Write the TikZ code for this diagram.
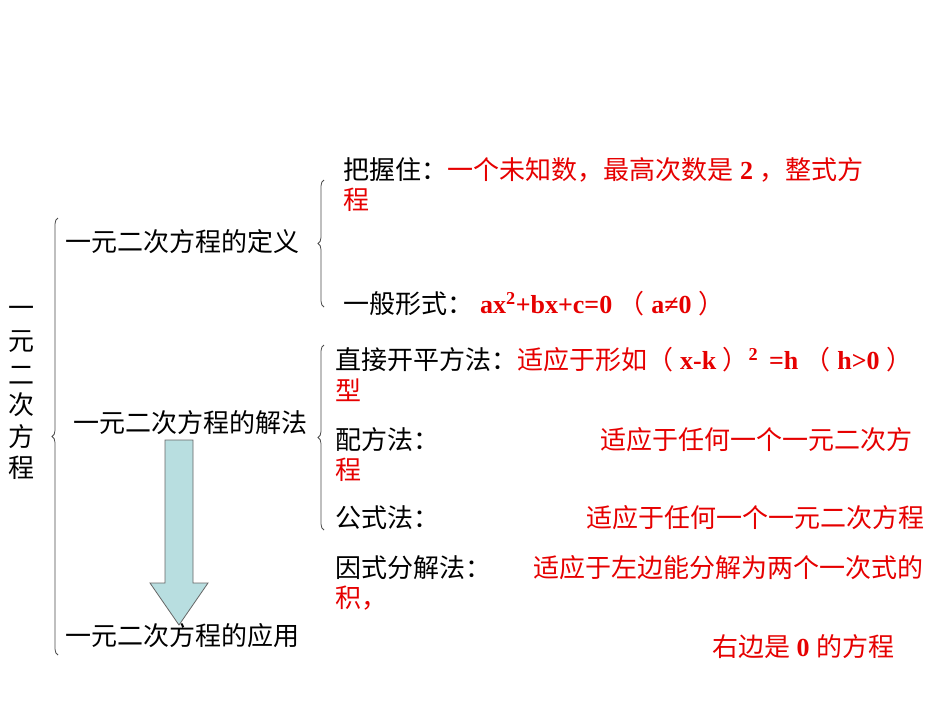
\documentclass[tikz,border=0pt]{standalone}
\usepackage{fontspec}
\setmainfont{Liberation Serif}
\newfontfamily\cjk{Noto Sans CJK SC}
\usetikzlibrary{decorations.pathreplacing}
\definecolor{myred}{RGB}{230,0,0}
\definecolor{arrowfill}{RGB}{184,222,224}
\tikzset{
  t/.style={anchor=west,inner sep=0pt,font=\cjk\fontsize{26}{26}\selectfont},
  r/.style={t,text=myred},
  br/.style={decorate,decoration={brace,amplitude=6pt,mirror},draw=black!70,line width=0.8pt}
}
\newcommand{\lt}[1]{{\rmfamily\bfseries #1}}
\newcommand{\lp}{{\cjk （}}
\newcommand{\rp}{{\cjk ）}}
\begin{document}
\begin{tikzpicture}[x=1pt,y=-1pt]
\useasboundingbox (0,0) rectangle (950,713);
\fill[white] (0,0) rectangle (950,713);
% braces
\coordinate (b1a) at (58,218); \coordinate (b1b) at (58,655);
\draw[br] (b1a) -- (b1b);
\coordinate (b2a) at (324,180); \coordinate (b2b) at (324,307);
\draw[br] (b2a) -- (b2b);
\coordinate (b3a) at (324,345); \coordinate (b3b) at (324,530);
\draw[br] (b3a) -- (b3b);
% vertical title
\foreach \c/\y in {一/312,元/342,二/375,次/405,方/437,程/468}
  \node[t,anchor=center] at (22,\y) {\c};
\node[t] (def) at (65,242) {一元二次方程的定义};
\node[t] (sol) at (73,423) {一元二次方程的解法};
\node[t] (app) at (65,636) {一元二次方程的应用};
% arrow
\draw[draw=black!60,fill=arrowfill,line width=0.8pt] (165,440) -- (193,440) -- (193,583) -- (208,583) -- (179,625) -- (150,583) -- (165,583) -- cycle;
% right texts
\node[t] (k1) at (343,170) {把握住：};
\node[r] at (k1.east) {一个未知数，最高次数是\lt{ 2 }，整式方};
\node[r] at (343,200) {程};
\node[t] (k2) at (343,304) {一般形式：};
\node[r] at (480,304) {\lt{ax\textsuperscript{2}+bx+c=0 }\lp\lt{ a≠0 }\rp};
\node[t] (m1) at (335,360) {直接开平方法：};
\node[r] at (m1.east) {适应于形如\lp\lt{ x-k }\rp\lt{\textsuperscript{2}\, =h }\lp\lt{ h>0 }\rp};
\node[r] at (335,390) {型};
\node[t] (m2) at (335,440) {配方法：};
\node[r] at (600,440) {适应于任何一个一元二次方};
\node[r] at (335,470) {程};
\node[t] (m3) at (335,518) {公式法：};
\node[r] at (586,518) {适应于任何一个一元二次方程};
\node[t] (m4) at (335,568) {因式分解法：};
\node[r] at (533,568) {适应于左边能分解为两个一次式的};
\node[r] at (335,598) {积，};
\node[r] at (712,647) {右边是\lt{ 0 }的方程};
\end{tikzpicture}
\end{document}
